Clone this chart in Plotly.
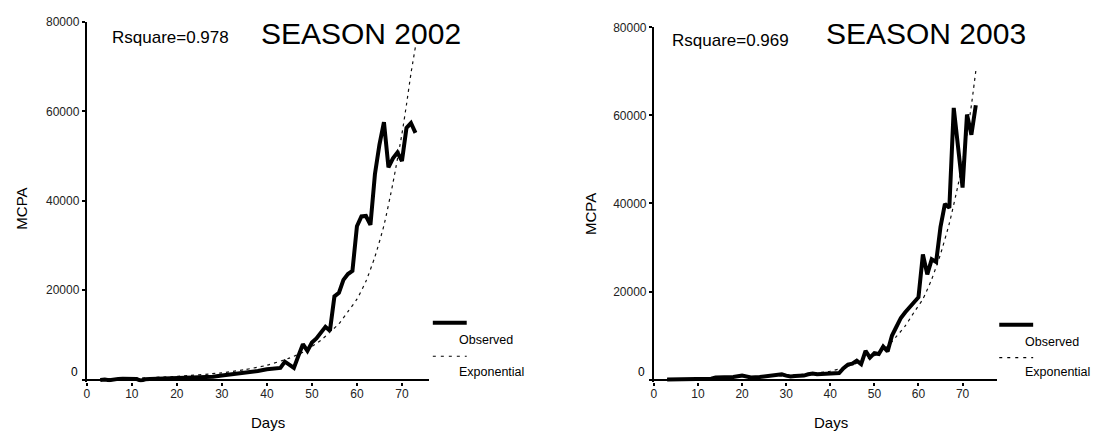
import plotly.graph_objects as go

W, H = 1093, 432
FONT = "Arial, Liberation Sans, sans-serif"

# ---- Season 2002 ----
days_2002 = [3, 4, 5, 6, 7, 8, 9, 10, 11, 12, 13, 14,
             16, 18, 20, 22, 24, 26, 28, 30, 32, 34, 36, 38, 40,
             41, 42, 43, 44, 45, 46, 47, 48, 49, 50, 51, 52, 53, 54, 55, 56,
             57, 58, 59, 60, 61, 62, 63, 64, 65, 66, 67, 68, 69, 70, 71, 72, 73]
obs_2002 = [-100, 0, -150, 100, 150, 200, 200, 250, 150, -250, 50, 100,
            150, 200, 300, 400, 500, 550, 650, 900, 1100, 1300, 1600, 1900, 2300,
            2400, 2700, 2600, 4000, 3400, 2600, 5300, 7900, 6400, 8300, 9200, 10400,
            11800, 10900, 18600, 19400, 22300, 23600, 24300, 34300, 36500, 36600,
            34600, 46000, 52600, 57600, 47500, 49500, 50800, 48900, 56300, 57400, 55200]
fit_days_2002 = [3, 10, 20, 30, 35, 40, 45, 48, 50, 52, 54, 56, 58, 60, 62, 64,
                 66, 68, 70, 71, 72, 73]
fit_2002 = [150, 300, 700, 1500, 2200, 3200, 4800, 6100, 7400, 8800, 10600, 12500,
            15200, 18000, 22000, 27500, 34500, 44000, 55000, 61500, 68500, 74500]

# ---- Season 2003 ----
days_2003 = [3, 5, 7, 9, 11, 12, 13, 14,
             16, 18, 20, 21, 22, 24, 26, 28, 29, 30, 31, 32, 34, 35, 36, 37, 38, 40,
             42, 43, 44, 45, 46, 47, 48, 49, 50, 51, 52, 53, 54, 55, 56, 57, 58, 59,
             60, 61, 62, 63, 64, 65, 66, 67, 68, 70, 71, 72, 73]
obs_2003 = [0, 0, 0, 0, 0, 50, 200, 500,
            500, 600, 900, 800, 500, 600, 800, 1100, 1200, 900, 700, 800, 900, 1200,
            1400, 1200, 1300, 1400,
            1500, 2600, 3400, 3600, 4300, 3500, 6500, 5000, 6000, 5800, 7500, 6400,
            10000, 12000, 14000, 15300, 16400, 17600, 18700, 28400, 23900, 27300,
            26700, 34700, 39900, 39000, 61700, 43600, 60200, 55600, 62300]
fit_days_2003 = [3, 10, 20, 30, 35, 40, 43, 46, 50, 53, 55, 57, 59, 61, 63, 65,
                 67, 69, 70, 71, 72, 73]
fit_2003 = [150, 250, 500, 900, 1300, 1900, 2700, 3700, 5400, 7600, 9800, 12200,
            15300, 18300, 22800, 28500, 35500, 44300, 49500, 55700, 62300, 70100]

y_ticks = [0, 20000, 40000, 60000, 80000]
y_tick_text = ["", "20000", "40000", "60000", "80000"]
x_ticks = [0, 10, 20, 30, 40, 50, 60, 70]

titles = ["SEASON 2002", "SEASON 2003"]
rsquare = ["Rsquare=0.978", "Rsquare=0.969"]


def px(x):
    return x / W


def py(y):
    return 1 - y / H


fig = go.Figure()

panels = [
    dict(days=days_2002, obs=obs_2002, fdays=fit_days_2002, fit=fit_2002,
         xa="x", ya="y", dom_x=(84, 426.7), xmax=75.9, dom_y=(381.4, 15.3)),
    dict(days=days_2003, obs=obs_2003, fdays=fit_days_2003, fit=fit_2003,
         xa="x2", ya="y2", dom_x=(652.7, 996.7), xmax=77.8, dom_y=(381.4, 20.7)),
]

for p in panels:
    fig.add_trace(go.Scatter(x=p["fdays"], y=p["fit"], mode="lines",
                             line=dict(color="#111", width=1.2, dash="3px,4px",
                                       shape="spline", smoothing=0.6),
                             xaxis=p["xa"], yaxis=p["ya"], showlegend=False))
    fig.add_trace(go.Scatter(x=p["days"], y=p["obs"], mode="lines",
                             line=dict(color="#000", width=4),
                             xaxis=p["xa"], yaxis=p["ya"], showlegend=False))

axis_common = dict(showgrid=False, ticks="outside", ticklen=3, tickwidth=2,
                   tickcolor="#000", tickfont=dict(family=FONT, size=12, color="#222"))

layout = dict(width=W, height=H, margin=dict(l=0, r=0, t=0, b=0),
              paper_bgcolor="white", plot_bgcolor="white", showlegend=False)

for i, p in enumerate(panels):
    sfx = "" if i == 0 else str(i + 1)
    layout["xaxis" + sfx] = dict(
        axis_common, domain=[px(p["dom_x"][0]), px(p["dom_x"][1])],
        range=[0, p["xmax"]], tickvals=x_ticks, showline=False, zeroline=False,
        ticklabelstandoff=-3, anchor="y" + sfx)
    layout["yaxis" + sfx] = dict(
        axis_common, domain=[py(p["dom_y"][0]), py(p["dom_y"][1])],
        range=[-600, 80000], tickvals=y_ticks, ticktext=y_tick_text,
        showline=True, linecolor="#000", linewidth=2,
        zeroline=True, zerolinecolor="#000", zerolinewidth=2,
        anchor="x" + sfx)

fig.update_layout(**layout)

ann = []


def text(x, y, s, size, xanchor="center", angle=0):
    ann.append(dict(x=px(x), y=py(y), xref="paper", yref="paper", text=s,
                    showarrow=False, xanchor=xanchor, yanchor="middle",
                    textangle=angle, font=dict(family=FONT, size=size, color="#000")))


# panel titles and fit quality
text(359, 27, titles[0], 30)
text(926, 27, titles[1], 30)
text(168, 31, rsquare[0], 17)
text(730, 34, rsquare[1], 17)

# axis titles
text(19, 205, "MCPA", 15, angle=-90)
text(589, 210, "MCPA", 15, angle=-90)
text(266, 422, "Days", 15)
text(830, 422, "Days", 15)

# zero labels on the y axes, set above the x axis
text(77.5, 371, "0", 12, xanchor="right")
text(646, 371, "0", 12, xanchor="right")

# legend keys
shapes = []
for (x0, x1, y_obs, y_exp, tx, ty_obs, ty_exp) in [
        (431, 465, 321, 355, 455, 338.5, 371),
        (999, 1033, 323, 356.5, 1022.5, 340.5, 371)]:
    shapes.append(dict(type="line", xref="paper", yref="paper",
                       x0=px(x0), x1=px(x1), y0=py(y_obs), y1=py(y_obs),
                       line=dict(color="#000", width=4)))
    shapes.append(dict(type="line", xref="paper", yref="paper",
                       x0=px(x0), x1=px(x1), y0=py(y_exp), y1=py(y_exp),
                       line=dict(color="#000", width=1.2, dash="3px,5px")))
    text(tx, ty_obs, "Observed", 12.5, xanchor="left")
    text(tx, ty_exp, "Exponential", 12.5, xanchor="left")

fig.update_layout(annotations=ann, shapes=shapes)

fig.write_html("out.html")
